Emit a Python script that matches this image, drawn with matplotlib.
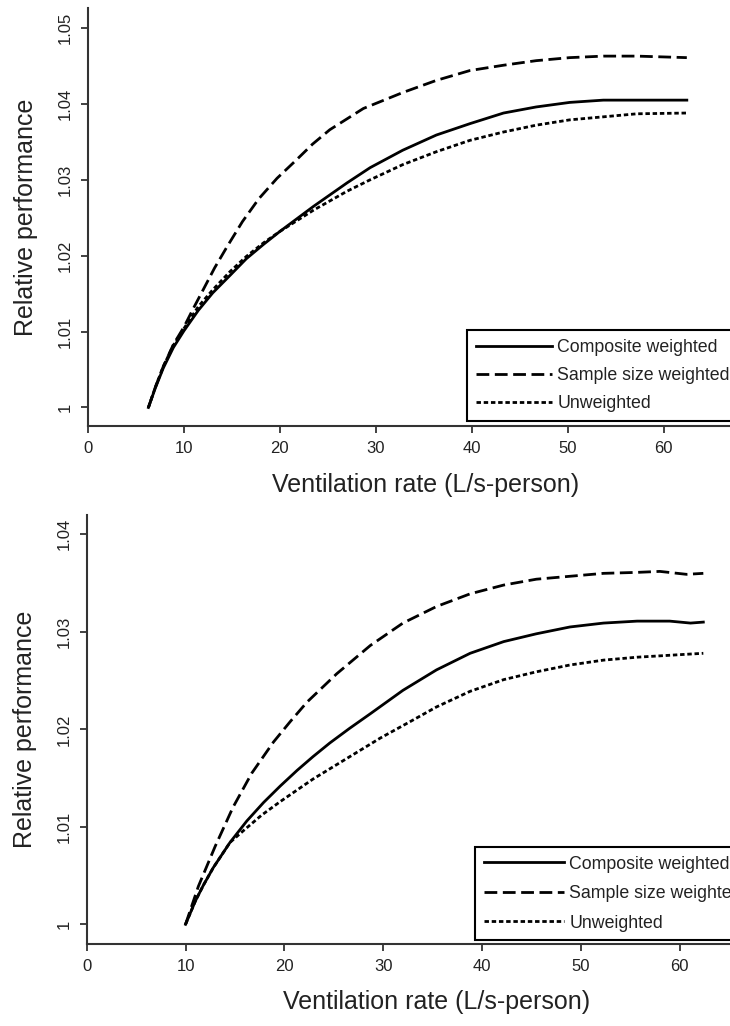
import matplotlib
matplotlib.use("Agg")
import matplotlib.pyplot as plt

plt.rcParams['font.family'] = ['Liberation Sans', 'DejaVu Sans']

labels = ["Composite weighted", "Sample size weighted", "Unweighted"]

# upper panel
top_comp_x = [6.3, 7.0, 7.85, 8.9, 10.0, 11.5, 13.0, 14.8, 16.5, 18.3, 20.0, 23.5, 27.0, 29.4, 32.8, 36.3, 39.8, 43.3, 46.7, 50.2, 53.7, 57.2, 62.4]
top_comp_y = [1.0000, 1.0025, 1.0052, 1.0079, 1.0101, 1.0128, 1.0151, 1.0174, 1.0196, 1.0215, 1.0232, 1.0265, 1.0296, 1.0316, 1.0339, 1.0359, 1.0374, 1.0388, 1.0396, 1.0402, 1.0405, 1.0405, 1.0405]
top_size_x = [6.3, 7.0, 7.85, 8.9, 10.0, 11.0, 12.0, 13.2, 14.5, 16.1, 17.8, 19.7, 21.7, 23.4, 25.2, 28.7, 32.8, 36.3, 39.8, 43.3, 46.7, 50.2, 53.7, 57.2, 62.4]
top_size_y = [1.0000, 1.0026, 1.0054, 1.0083, 1.0106, 1.0131, 1.0155, 1.0184, 1.0212, 1.0245, 1.0275, 1.0302, 1.0326, 1.0347, 1.0366, 1.0394, 1.0415, 1.0431, 1.0444, 1.0451, 1.0457, 1.0461, 1.0463, 1.0463, 1.0461]
top_unw_x = [6.3, 7.0, 7.85, 8.9, 10.0, 11.5, 13.0, 14.8, 16.5, 18.3, 20.0, 23.5, 27.0, 29.4, 32.8, 36.3, 39.8, 43.3, 46.7, 50.2, 53.7, 57.2, 62.4]
top_unw_y = [1.0000, 1.0026, 1.0054, 1.0082, 1.0104, 1.0133, 1.0155, 1.0179, 1.0199, 1.0217, 1.0232, 1.0260, 1.0285, 1.0300, 1.0320, 1.0337, 1.0352, 1.0363, 1.0372, 1.0379, 1.0383, 1.0387, 1.0388]

# lower panel
bot_comp_x = [10.0, 11.0, 11.8, 12.8, 14.5, 16.2, 17.9, 19.6, 21.3, 22.9, 24.6, 26.6, 28.7, 32.0, 35.4, 38.8, 42.2, 45.5, 48.9, 52.3, 55.7, 59.0, 61.1, 62.4]
bot_comp_y = [1.0000, 1.0024, 1.0040, 1.0058, 1.0084, 1.0106, 1.0125, 1.0142, 1.0158, 1.0172, 1.0186, 1.0201, 1.0216, 1.0240, 1.0261, 1.0278, 1.0290, 1.0298, 1.0305, 1.0309, 1.0311, 1.0311, 1.0309, 1.0310]
bot_size_x = [10.0, 10.6, 11.3, 13.0, 14.8, 16.7, 18.9, 20.6, 22.3, 25.3, 28.7, 32.0, 35.4, 38.8, 42.2, 45.5, 48.9, 52.3, 55.7, 58.0, 60.7, 62.4]
bot_size_y = [1.0000, 1.0018, 1.0039, 1.0080, 1.0120, 1.0155, 1.0187, 1.0208, 1.0228, 1.0257, 1.0286, 1.0309, 1.0326, 1.0339, 1.0348, 1.0354, 1.0357, 1.0360, 1.0361, 1.0362, 1.0359, 1.0360]
bot_unw_x = [10.0, 11.0, 11.8, 12.8, 14.5, 15.85, 17.7, 19.6, 22.9, 26.3, 29.7, 33.1, 35.4, 38.8, 42.2, 45.5, 48.9, 52.3, 55.7, 60.7, 62.4]
bot_unw_y = [1.0000, 1.0024, 1.0040, 1.0058, 1.0084, 1.0096, 1.0112, 1.0126, 1.0149, 1.0170, 1.0191, 1.0210, 1.0223, 1.0239, 1.0251, 1.0259, 1.0266, 1.0271, 1.0274, 1.0277, 1.0278]

x_ticks = [0, 10, 20, 30, 40, 50, 60]
top_y_ticks = [1.0, 1.01, 1.02, 1.03, 1.04, 1.05]
top_y_labels = ["1", "1.01", "1.02", "1.03", "1.04", "1.05"]
bot_y_ticks = [1.0, 1.01, 1.02, 1.03, 1.04]
bot_y_labels = ["1", "1.01", "1.02", "1.03", "1.04"]

line_styles = ['-', (0, (4.6, 2.0)), (0, (1.6, 1.0))]


def draw_panel(ax, series, xlim, ylim, yticks, ylabels, xlab_pos, ylab_pos,
               leg_anchor, leg_spacing, handle_len):
    for (xs, ys), ls, lab in zip(series, line_styles, labels):
        ax.plot(xs, ys, color='black', lw=2.0, linestyle=ls, label=lab)

    ax.set_xlim(*xlim)
    ax.set_ylim(*ylim)
    ax.set_xticks(x_ticks)
    ax.set_yticks(yticks)
    ax.set_yticklabels(ylabels, rotation=90, va='center')

    for side in ['top', 'right']:
        ax.spines[side].set_visible(False)
    for side in ['left', 'bottom']:
        ax.spines[side].set_linewidth(1.5)
        ax.spines[side].set_color('#333333')
    ax.tick_params(direction='out', length=5, width=1.3, color='#333333',
                   labelsize=12, labelcolor='#222222')
    ax.tick_params(axis='x', pad=6)
    ax.tick_params(axis='y', pad=6)

    ax.set_xlabel("Ventilation rate (L/s-person)", fontsize=18, color='#222222')
    ax.set_ylabel("Relative performance", fontsize=18, color='#222222')
    ax.xaxis.set_label_coords(*xlab_pos)
    ax.yaxis.set_label_coords(*ylab_pos)

    leg = ax.legend(loc='upper left', bbox_to_anchor=leg_anchor, borderaxespad=0,
                    fontsize=12.8, fancybox=False, framealpha=1, edgecolor='black',
                    borderpad=0.5, labelspacing=leg_spacing, handlelength=handle_len,
                    handletextpad=0.3)
    leg.get_frame().set_linewidth(1.5)
    for t in leg.get_texts():
        t.set_color('#222222')


fig = plt.figure(figsize=(7.3, 10.26), dpi=100)

ax1 = fig.add_axes([0.1205, 0.5848, 0.8795, 0.4074])
draw_panel(ax1,
           [(top_comp_x, top_comp_y), (top_size_x, top_size_y), (top_unw_x, top_unw_y)],
           (0, 66.9), (0.99756, 1.05264), top_y_ticks, top_y_labels,
           (0.5257, -0.112), (-0.078, 0.5), (0.5899, 0.2297), 0.62, 4.3)

ax2 = fig.add_axes([0.1188, 0.0799, 0.8812, 0.4181])
draw_panel(ax2,
           [(bot_comp_x, bot_comp_y), (bot_size_x, bot_size_y), (bot_unw_x, bot_unw_y)],
           (0, 65.1), (0.99798, 1.04198), bot_y_ticks, bot_y_labels,
           (0.544, -0.107), (-0.078, 0.5), (0.6036, 0.2268), 0.7, 4.5)

fig.savefig("out.png", dpi=100)
